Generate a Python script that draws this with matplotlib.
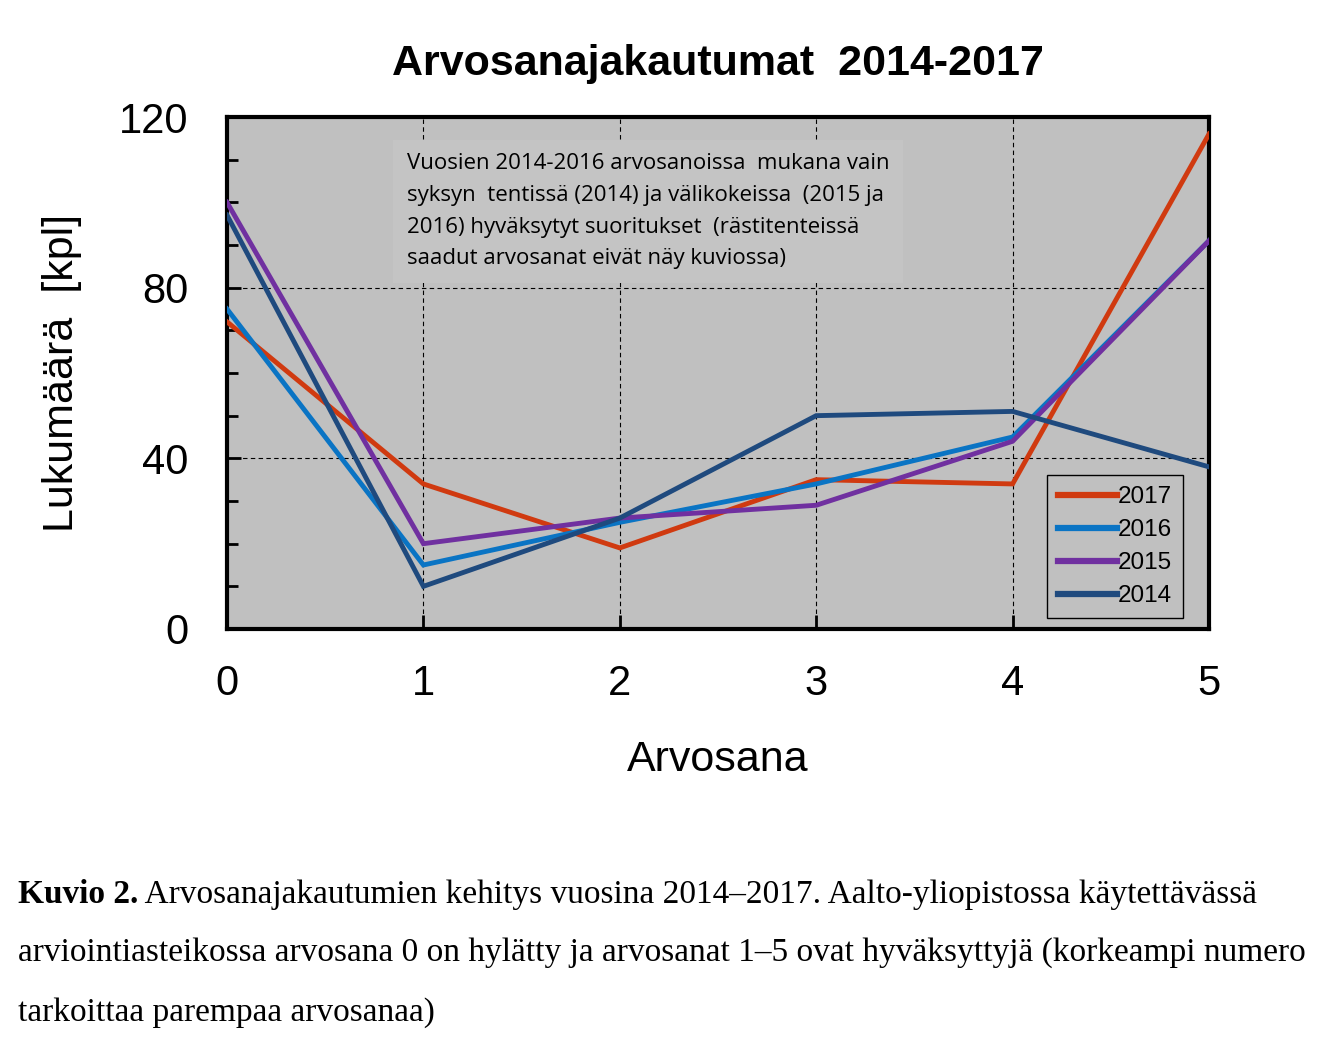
import matplotlib.pyplot as plt
from matplotlib.ticker import MultipleLocator

# grade distributions
grades = [0, 1, 2, 3, 4, 5]
years = ['2017', '2016', '2015', '2014']
y2017 = [72, 34, 19, 35, 34, 116]
y2016 = [75, 15, 25, 34, 45, 91]
y2015 = [100, 20, 26, 29, 44, 91]
y2014 = [97, 10, 26, 50, 51, 38]
colors = ['#d03a10', '#0a74c4', '#7030a0', '#1f4a7e']

plt.rcParams['font.family'] = ['Liberation Sans', 'DejaVu Sans']

fig = plt.figure(figsize=(13.38, 10.54), dpi=100)
ax = fig.add_axes([227/1338, 1-629/1054, (1209-227)/1338, (629-117)/1054])
ax.set_facecolor('#c0c0c0')

for vals, c, lab in zip([y2017, y2016, y2015, y2014], colors, years):
    ax.plot(grades, vals, color=c, lw=3.5, label=lab, zorder=3, solid_joinstyle='miter')

ax.set_xlim(0, 5)
ax.set_ylim(0, 120)
ax.yaxis.set_major_locator(MultipleLocator(40))
ax.yaxis.set_minor_locator(MultipleLocator(10))
ax.xaxis.set_major_locator(MultipleLocator(1))
ax.grid(True, which='major', color='black', linestyle=(0, (4, 3)), lw=0.8)
ax.tick_params(axis='both', which='major', direction='in', length=10, width=2,
               labelsize=30)
ax.tick_params(axis='y', which='major', pad=28)
ax.tick_params(axis='x', which='major', pad=25)
ax.tick_params(axis='y', which='minor', direction='in', length=8, width=2)
for s in ax.spines.values():
    s.set_linewidth(3)

ax.set_xlabel('Arvosana', fontsize=31, labelpad=26)
ax.set_ylabel('Lukumäärä  [kpl]', fontsize=31, labelpad=26)
ax.set_title('Arvosanajakautumat  2014-2017', fontsize=31, fontweight='bold', pad=30)

ax.text(0.183, 0.93,
        'Vuosien 2014-2016 arvosanoissa  mukana vain\n'
        'syksyn  tentissä (2014) ja välikokeissa  (2015 ja\n'
        '2016) hyväksytyt suoritukset  (rästitenteissä\n'
        'saadut arvosanat eivät näy kuviossa)',
        transform=ax.transAxes, fontsize=16, family=['Open Sans', 'DejaVu Sans'],
        va='top', ha='left', linespacing=1.68, zorder=2,
        bbox=dict(boxstyle='square,pad=0.6', facecolor='#c4c4c4', edgecolor='none'))

leg = ax.legend(loc='lower right', bbox_to_anchor=(1 - 26/982, 11/512), fontsize=17.5,
                frameon=True, fancybox=False, handlelength=2.4, handletextpad=0.05,
                borderpad=0.45, labelspacing=0.45, borderaxespad=0)
leg.get_frame().set_facecolor('#c0c0c0')
leg.get_frame().set_edgecolor('black')
leg.get_frame().set_linewidth(1)
leg.get_frame().set_alpha(1)
for h in leg.get_lines():
    h.set_linewidth(4.5)

serif = ['Liberation Serif', 'DejaVu Serif']
cap_lines = [
    (' Arvosanajakautumien kehitys vuosina 2014–2017. Aalto-yliopistossa käytettävässä', 0.143),
    ('arviointiasteikossa arvosana 0 on hylätty ja arvosanat 1–5 ovat hyväksyttyjä (korkeampi numero', 0.088),
    ('tarkoittaa parempaa arvosanaa)', 0.032),
]
t = fig.text(18/1338, cap_lines[0][1], 'Kuvio 2.', fontsize=24, fontweight='bold',
             family=serif, va='baseline')
fig.canvas.draw()
bb = t.get_window_extent()
fig.text(bb.x1/1338, cap_lines[0][1], cap_lines[0][0], fontsize=24, family=serif, va='baseline')
for txt, yy in cap_lines[1:]:
    fig.text(18/1338, yy, txt, fontsize=24, family=serif, va='baseline')

fig.savefig('out.png', dpi=100)
